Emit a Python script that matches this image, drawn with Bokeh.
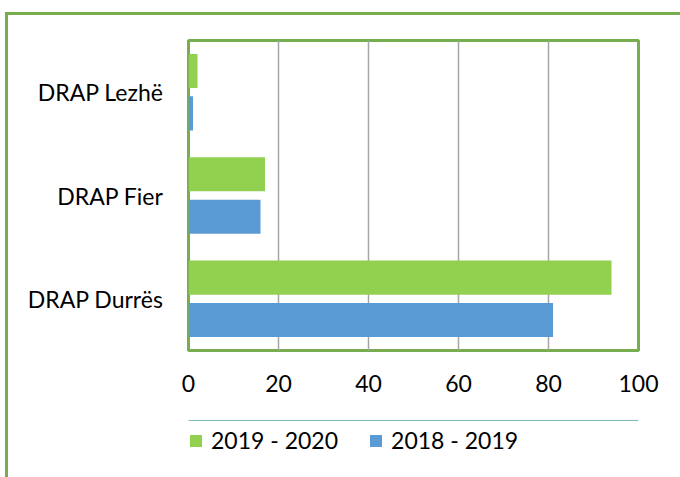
from bokeh.plotting import figure
from bokeh.models import ColumnDataSource, FactorRange, Range1d, Legend, LegendItem
from bokeh.layouts import column
from bokeh.transform import dodge
from bokeh.embed import file_html
from bokeh.resources import INLINE

categories = ["DRAP Durrës", "DRAP Fier", "DRAP Lezhë"]
values_2019_2020 = [94, 17, 2]
values_2018_2019 = [81, 16, 1]
x_ticks = [0, 20, 40, 60, 80, 100]
series_labels = ["2019 - 2020", "2018 - 2019"]

GREEN = "#92D050"
BLUE = "#5B9BD5"
BORDER = "#77AD4E"
FONT = "Lato"

src = ColumnDataSource(dict(cat=categories, a=values_2019_2020, b=values_2018_2019))

p = figure(width=672, height=405, y_range=FactorRange(*categories),
           x_range=Range1d(0, 100), output_backend="svg", toolbar_location=None,
           min_border_left=180, min_border_right=42, min_border_top=25,
           min_border_bottom=70)

r1 = p.hbar(y=dodge("cat", 0.205, range=p.y_range), right="a", left=0, height=0.33,
            source=src, color=GREEN, line_color=None)
r2 = p.hbar(y=dodge("cat", -0.205, range=p.y_range), right="b", left=0, height=0.33,
            source=src, color=BLUE, line_color=None)

p.outline_line_color = BORDER
p.outline_line_width = 3
p.xgrid.grid_line_color = "#A6A6A6"
p.xgrid.grid_line_width = 1.5
p.ygrid.grid_line_color = None

p.xaxis.ticker = x_ticks
p.xaxis.axis_line_color = None
p.xaxis.major_tick_line_color = None
p.xaxis.minor_tick_line_color = None
p.xaxis.major_tick_out = 0
p.xaxis.major_tick_in = 0
p.xaxis.minor_tick_out = 0
p.xaxis.major_label_standoff = 24
p.xaxis.major_label_text_font = FONT
p.xaxis.major_label_text_font_size = "23px"
p.xaxis.major_label_text_color = "#000000"

p.yaxis.axis_line_color = None
p.yaxis.major_tick_line_color = None
p.yaxis.minor_tick_line_color = None
p.yaxis.major_tick_out = 0
p.yaxis.major_tick_in = 0
p.yaxis.major_label_standoff = 25
p.yaxis.major_label_text_font = FONT
p.yaxis.major_label_text_font_size = "23px"
p.yaxis.major_label_text_color = "#000000"

# legend strip below the chart (swatch renderers lie outside its visible range)
lf = figure(width=672, height=57, x_range=Range1d(0, 1), y_range=Range1d(-1, 0),
            x_axis_type=None, y_axis_type=None, output_backend="svg",
            toolbar_location=None, min_border=0, min_border_left=0,
            min_border_right=0, min_border_top=0, min_border_bottom=0)
lf.grid.visible = False
lf.outline_line_color = None
s1 = lf.hbar(y="a", right="a", left=0, height=0.3, source=src, color=GREEN, line_color=None)
s2 = lf.hbar(y="a", right="b", left=0, height=0.3, source=src, color=BLUE, line_color=None)

legend = Legend(items=[LegendItem(label=series_labels[0], renderers=[s1]),
                       LegendItem(label=series_labels[1], renderers=[s2])],
                orientation="horizontal", location=(0, 23))
legend.padding = 0
legend.margin = 0
legend.spacing = 30
legend.glyph_width = 15
legend.glyph_height = 15
legend.label_standoff = 8
legend.label_text_font = FONT
legend.label_text_font_size = "23px"
legend.label_text_color = "#000000"
legend.border_line_color = None
legend.background_fill_alpha = 0
lf.add_layout(legend, "center")

layout = column(p, lf, spacing=0,
                styles={"border-top": f"3px solid {BORDER}",
                        "border-left": f"3px solid {BORDER}",
                        "margin-top": "12px", "margin-left": "5px"})

open("out.html", "w").write(file_html(layout, INLINE))
